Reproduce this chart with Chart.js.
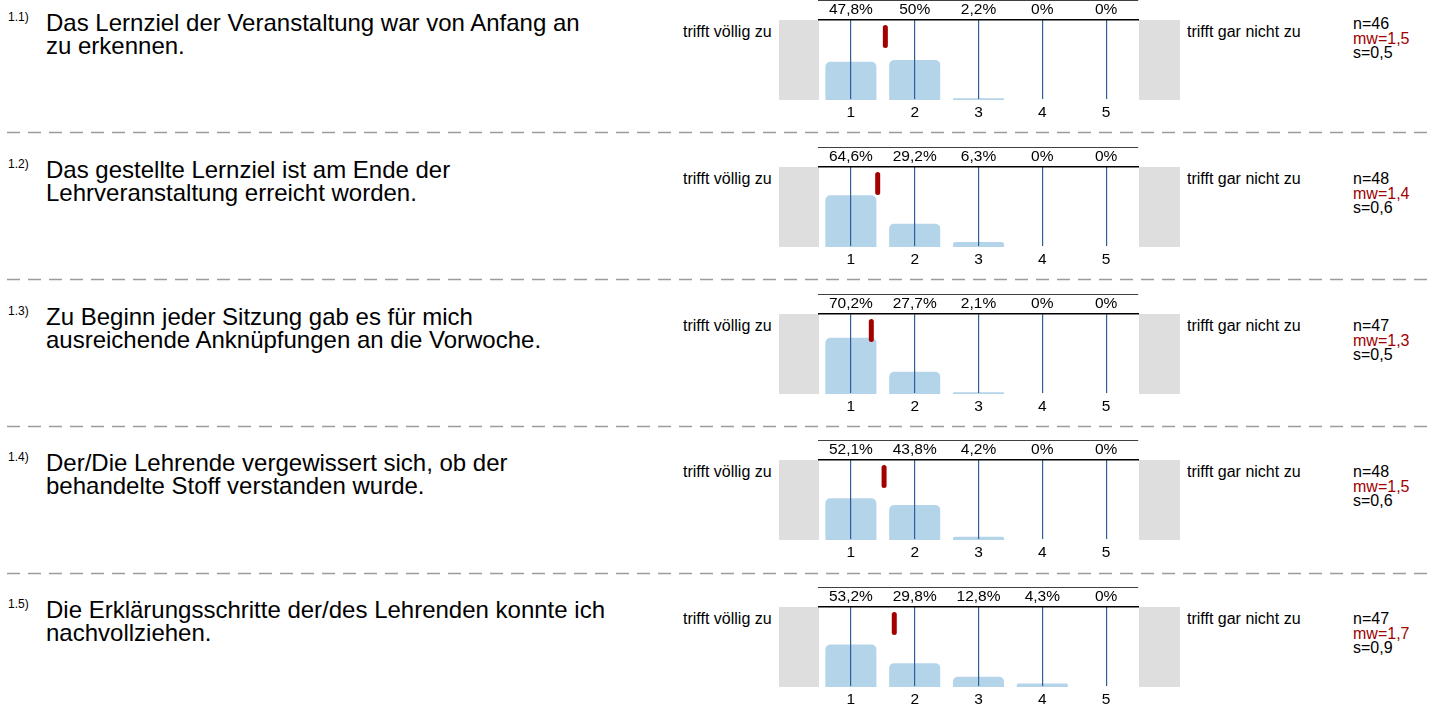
<!DOCTYPE html>
<html><head><meta charset="utf-8">
<script src="https://cdn.jsdelivr.net/npm/chart.js@4/dist/chart.umd.min.js"></script>
<style>
body{margin:0;background:#fff;font-family:"Liberation Sans",Arial,sans-serif;width:1429px;height:709px;overflow:hidden;position:relative}
.q{position:absolute;left:46px;font-size:24px;line-height:23px;color:#000;white-space:nowrap}
.num{position:absolute;left:8px;font-size:12px;line-height:14px;color:#000}
.lab{position:absolute;font-size:16px;line-height:18px;color:#000;white-space:nowrap}
.st{position:absolute;left:1353px;font-size:16px;line-height:14.5px;color:#000}
.st .mw{color:#a00000}
canvas{position:absolute}
svg{position:absolute;left:0;top:0}
</style>
</head><body>
<svg id="sep" width="1429" height="709"></svg>
<script>
const categories = ['1','2','3','4','5'];
const questionNumbers = ['1.1)','1.2)','1.3)','1.4)','1.5)'];
const questionTexts = [
  ['Das Lernziel der Veranstaltung war von Anfang an','zu erkennen.'],
  ['Das gestellte Lernziel ist am Ende der','Lehrveranstaltung erreicht worden.'],
  ['Zu Beginn jeder Sitzung gab es für mich','ausreichende Anknüpfungen an die Vorwoche.'],
  ['Der/Die Lehrende vergewissert sich, ob der','behandelte Stoff verstanden wurde.'],
  ['Die Erklärungsschritte der/des Lehrenden konnte ich','nachvollziehen.']
];
const q1Values = [47.8, 50, 2.2, 0, 0];
const q2Values = [64.6, 29.2, 6.3, 0, 0];
const q3Values = [70.2, 27.7, 2.1, 0, 0];
const q4Values = [52.1, 43.8, 4.2, 0, 0];
const q5Values = [53.2, 29.8, 12.8, 4.3, 0];
const seriesValues = [q1Values, q2Values, q3Values, q4Values, q5Values];
const meanPositions = [1.54, 1.42, 1.32, 1.52, 1.68];
const nValues = ['46','48','47','48','47'];
const mwValues = ['1,5','1,4','1,3','1,5','1,7'];
const sValues = ['0,5','0,6','0,5','0,6','0,9'];
const leftLabel = 'trifft völlig zu';
const rightLabel = 'trifft gar nicht zu';

const FONT = '"Liberation Sans", Arial, sans-serif';
const rowTops = [20, 167, 314, 460, 607];
const fmt = v => String(v).replace('.', ',') + '%';

// separators
const svg = document.getElementById('sep');
for (let i = 0; i < 4; i++) {
  const y = 132.5 + i * 147;
  const l = document.createElementNS('http://www.w3.org/2000/svg','line');
  l.setAttribute('x1', 7); l.setAttribute('x2', 1429);
  l.setAttribute('y1', y); l.setAttribute('y2', y);
  l.setAttribute('stroke', '#9c9c9c'); l.setAttribute('stroke-width', '1.5');
  l.setAttribute('stroke-dasharray', '13 8');
  svg.appendChild(l);
}

const greyBoxes = {
  id: 'greyBoxes',
  beforeDraw(chart) {
    const {ctx, chartArea: a} = chart;
    ctx.save();
    ctx.fillStyle = '#dedede';
    ctx.fillRect(a.left - 40, a.top, 40, a.bottom - a.top);
    ctx.fillRect(a.right + 1, a.top, 41, a.bottom - a.top);
    ctx.restore();
  }
};
const meanMarker = {
  id: 'meanMarker',
  afterDraw(chart, args, opts) {
    const {ctx, scales: {x, y}} = chart;
    const px = x.getPixelForValue(opts.mean - 1);
    ctx.save();
    ctx.strokeStyle = '#a50000';
    ctx.lineWidth = 5;
    ctx.lineCap = 'round';
    ctx.beginPath();
    ctx.moveTo(px, y.getPixelForValue(90.5));
    ctx.lineTo(px, y.getPixelForValue(68));
    ctx.stroke();
    ctx.restore();
  }
};

function addDiv(cls, left, top, html) {
  const d = document.createElement('div');
  d.className = cls;
  if (left !== null) d.style.left = left + 'px';
  d.style.top = top + 'px';
  d.innerHTML = html;
  document.body.appendChild(d);
}

seriesValues.forEach((vals, i) => {
  const top = rowTops[i];
  addDiv('num', null, top - 10, questionNumbers[i]);
  addDiv('q', null, top - 9, questionTexts[i].join('<br>'));
  addDiv('lab', 683, top + 3, leftLabel);
  addDiv('lab', 1187, top + 3, rightLabel);
  const stTop = i === 0 ? top - 3 : top + 5;
  addDiv('st', null, stTop, 'n=' + nValues[i] + '<br><span class="mw">mw=' + mwValues[i] + '</span><br>s=' + sValues[i]);

  const c = document.createElement('canvas');
  c.width = 420; c.height = 120;
  c.style.left = '770px'; c.style.top = (top - 20) + 'px';
  c.style.width = '420px'; c.style.height = '120px';
  document.body.appendChild(c);
  new Chart(c, {
    type: 'bar',
    data: {
      labels: categories,
      datasets: [{
        data: vals,
        backgroundColor: '#b4d4ea',
        borderRadius: 5,
        borderSkipped: 'bottom',
        barPercentage: 0.8,
        categoryPercentage: 1
      }]
    },
    options: {
      responsive: false, animation: false, devicePixelRatio: 1,
      layout: {padding: {left: 49, right: 52, top: 0, bottom: 0}},
      plugins: {legend: {display: false}, tooltip: {enabled: false}, meanMarker: {mean: meanPositions[i]}},
      scales: {
        x: {
          position: 'bottom', offset: true,
          grid: {offset: false, color: '#2f5f95', lineWidth: 1.2, drawTicks: false, z: 1},
          border: {color: '#000', width: 1.5},
          ticks: {color: '#000', font: {size: 15.5, family: FONT}, padding: 3, maxRotation: 0},
          afterFit(s) { s.height = 20; }
        },
        x2: {
          type: 'category', labels: vals.map(fmt), position: 'top', offset: true,
          grid: {display: false, drawTicks: false},
          border: {display: true, color: '#000', width: 1.5, z: 1},
          ticks: {color: '#000', font: {size: 15.5, family: FONT}, padding: 1, maxRotation: 0},
          afterFit(s) { s.height = 20; }
        },
        y: {display: false, min: 0, max: 100}
      }
    },
    plugins: [greyBoxes, meanMarker]
  });
});
</script>
</body></html>
